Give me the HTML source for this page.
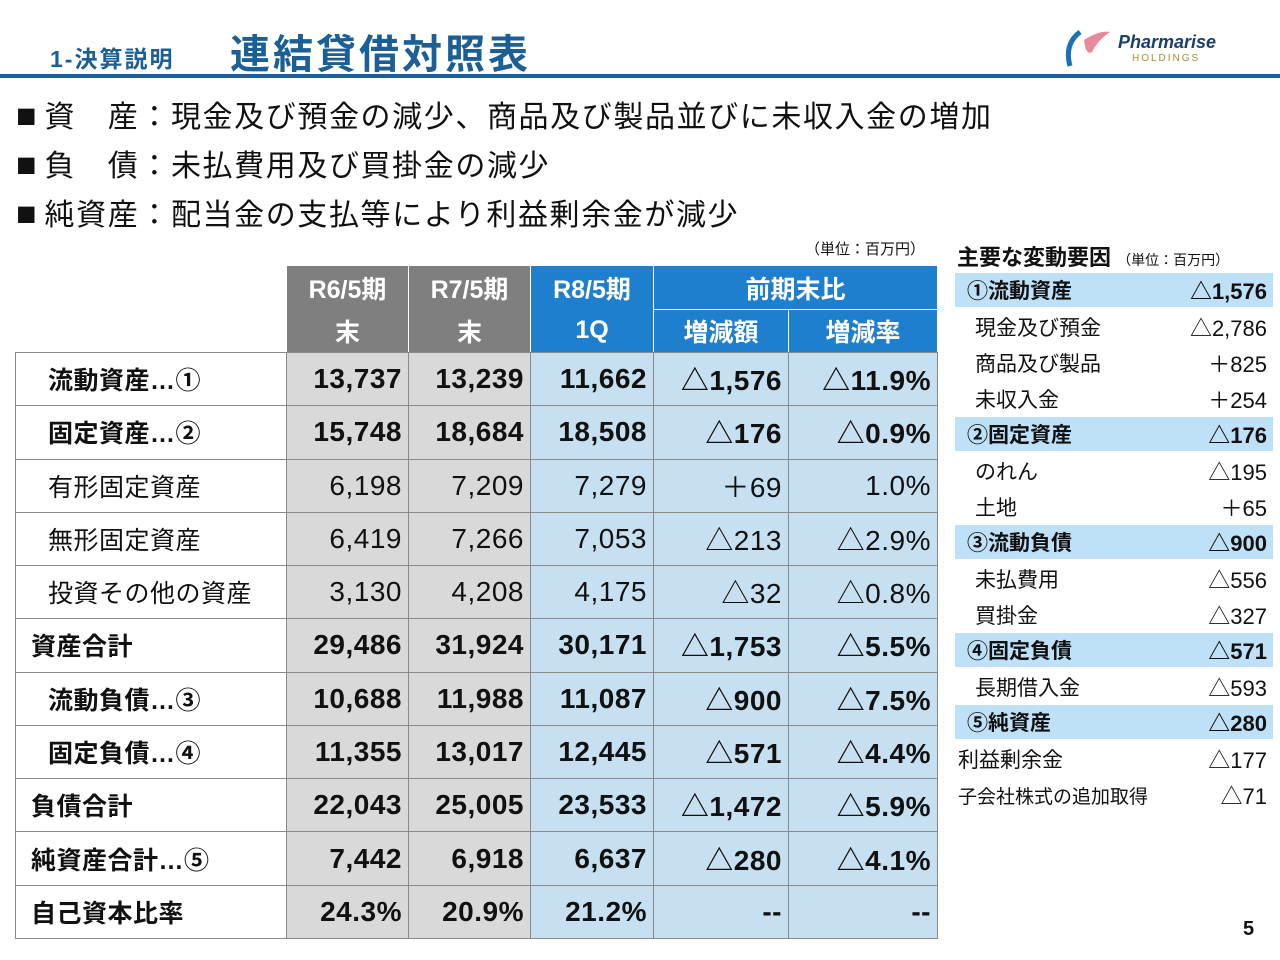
<!DOCTYPE html>
<html><head><meta charset="utf-8">
<style>
*{margin:0;padding:0;box-sizing:border-box}
body{width:1280px;height:960px;background:#fff;position:relative;overflow:hidden;font-family:"Liberation Sans","Noto Sans CJK JP",sans-serif;color:#111}
.a{position:absolute}
.c{position:absolute;display:flex;align-items:center;border:1px solid #8a8a8a;font-size:28px;white-space:nowrap}
.b{font-weight:bold}
.r{position:absolute;display:flex;align-items:center;justify-content:space-between;font-size:21px;padding:0 6px 0 12px}
.bl{position:absolute;left:16px;font-size:30px;letter-spacing:1.6px;white-space:nowrap}
.bl i{font-style:normal;font-size:34px;margin-right:8px;letter-spacing:0}
</style></head><body>
<div class="a b" style="left:50px;top:40px;font-size:23px;letter-spacing:2px;color:#1a5f96">1-決算説明</div>
<div class="a b" style="left:230px;top:22px;font-size:40px;letter-spacing:3px;color:#1a5f96">連結貸借対照表</div>
<div class="a" style="left:1062px;top:26px;width:170px;height:44px">
<svg width="60" height="44" style="position:absolute;left:0;top:0"><path d="M18 6 Q2 18 8 40" stroke="#1d6fb8" stroke-width="5" fill="none"/><path d="M22 14 Q38 4 48 6 Q36 14 30 26 Q24 30 22 14Z" fill="#e78a9a"/></svg>
<div class="a b" style="left:56px;top:6px;font-size:18px;font-style:italic;color:#1a3f73">Pharmarise</div>
<div class="a" style="left:70px;top:27px;font-size:10px;letter-spacing:2px;color:#b08a30">HOLDINGS</div>
</div>
<div class="a" style="left:0;top:74px;width:1280px;height:4px;background:#1a5f96"></div>
<div class="bl" style="top:92px"><i>■</i>資　産：現金及び預金の減少、商品及び製品並びに未収入金の増加</div>
<div class="bl" style="top:141px"><i>■</i>負　債：未払費用及び買掛金の減少</div>
<div class="bl" style="top:190px"><i>■</i>純資産：配当金の支払等により利益剰余金が減少</div>
<div class="a" style="left:805px;top:238px;font-size:15px">（単位：百万円）</div>
<div class="a b" style="left:957px;top:240px;font-size:22px">主要な変動要因 <span style="font-size:14px;font-weight:normal">（単位：百万円）</span></div>
<div class="a b" style="left:1243px;top:918px;font-size:20px">5</div>
<div id="tbl"></div><div id="side"></div>
<script>
const cols=[15,286,408,530,653,788,937];
const rowLabels=["流動資産…①","固定資産…②","有形固定資産","無形固定資産","投資その他の資産","資産合計","流動負債…③","固定負債…④","負債合計","純資産合計…⑤","自己資本比率"];
const indent=[1,1,1,1,1,0,1,1,0,0,0];
const boldRow=[1,1,0,0,0,1,1,1,1,1,1];
const vals=[
["13,737","13,239","11,662","△1,576","△11.9%"],
["15,748","18,684","18,508","△176","△0.9%"],
["6,198","7,209","7,279","＋69","1.0%"],
["6,419","7,266","7,053","△213","△2.9%"],
["3,130","4,208","4,175","△32","△0.8%"],
["29,486","31,924","30,171","△1,753","△5.5%"],
["10,688","11,988","11,087","△900","△7.5%"],
["11,355","13,017","12,445","△571","△4.4%"],
["22,043","25,005","23,533","△1,472","△5.9%"],
["7,442","6,918","6,637","△280","△4.1%"],
["24.3%","20.9%","21.2%","--","--"]];
const T=document.getElementById('tbl');
function cell(x,y,w,h,txt,bg,css){const d=document.createElement('div');d.className='c';d.style.cssText=`left:${x}px;top:${y}px;width:${w+1}px;height:${h+1}px;background:${bg};`+css;d.textContent=txt;T.appendChild(d);return d;}
const hc=['#7f7f7f','#7f7f7f','#1f7fcf','#1f7fcf','#1f7fcf'];
const h1=["R6/5期","R7/5期","R8/5期"],h2=["末","末","1Q"];
for(let i=0;i<3;i++){
 const d=cell(cols[i+1],265,cols[i+2]-cols[i+1],44,h1[i],hc[i],'justify-content:center;color:#fff;font-weight:bold;border-color:#fff;border-bottom:none;font-size:25px');
 
 const e=cell(cols[i+1],309,cols[i+2]-cols[i+1],43,h2[i],hc[i],'justify-content:center;color:#fff;font-weight:bold;border-color:#fff;border-top:none;font-size:25px');
 
}
const g=cell(653,265,284,44,"前期末比",'#1f7fcf','justify-content:center;color:#fff;font-weight:bold;border-color:#fff;font-size:25px');

[["増減額",653,135],["増減率",788,149]].forEach(([t,x,w])=>{const d=cell(x,309,w,43,t,'#1f7fcf','justify-content:center;color:#fff;font-weight:bold;border-color:#fff;font-size:25px');
});
const rh=(938-352)/11;
const bgc=['#fff','#d9d9d9','#d9d9d9','#c6e0f2','#c6e0f2','#c6e0f2'];
rowLabels.forEach((lab,r)=>{
 const y=352+r*rh;
 const l=cell(15,y,271,rh,lab,'#fff',`padding-left:${indent[r]?32:15}px;${boldRow[r]?'font-weight:bold;':''}font-size:25px;letter-spacing:0.5px`);
 
 vals[r].forEach((v,j)=>{const d=cell(cols[j+1],y,cols[j+2]-cols[j+1],rh,v,bgc[j+1],`justify-content:flex-end;padding-right:6px;letter-spacing:0.5px;${boldRow[r]?'font-weight:bold;':''}`);
 });
});
const sideLabels=["①流動資産","現金及び預金","商品及び製品","未収入金","②固定資産","のれん","土地","③流動負債","未払費用","買掛金","④固定負債","長期借入金","⑤純資産","利益剰余金","子会社株式の追加取得"];
const sideVals=["△1,576","△2,786","＋825","＋254","△176","△195","＋65","△900","△556","△327","△571","△593","△280","△177","△71"];
const sideHead=[1,0,0,0,1,0,0,1,0,0,1,0,1,0,0];
const S=document.getElementById('side');
sideLabels.forEach((t,i)=>{
 const d=document.createElement('div');d.className='r';
 const top=273+i*36;
 const pl=sideHead[i]?12:(i>=13?3:20);
 d.style.cssText=`left:955px;top:${top}px;width:318px;height:${sideHead[i]?34:36}px;background:${sideHead[i]?'#bfe1f8':'transparent'};padding-left:${pl}px;padding-right:6px;${sideHead[i]?'font-weight:bold;':''}${i==14?'font-size:19px;':''}`;
 d.innerHTML=`<span>${t}</span><span style="font-size:22px">${sideVals[i]}</span>`;
 
 
 S.appendChild(d);
});
</script>
</body></html>
